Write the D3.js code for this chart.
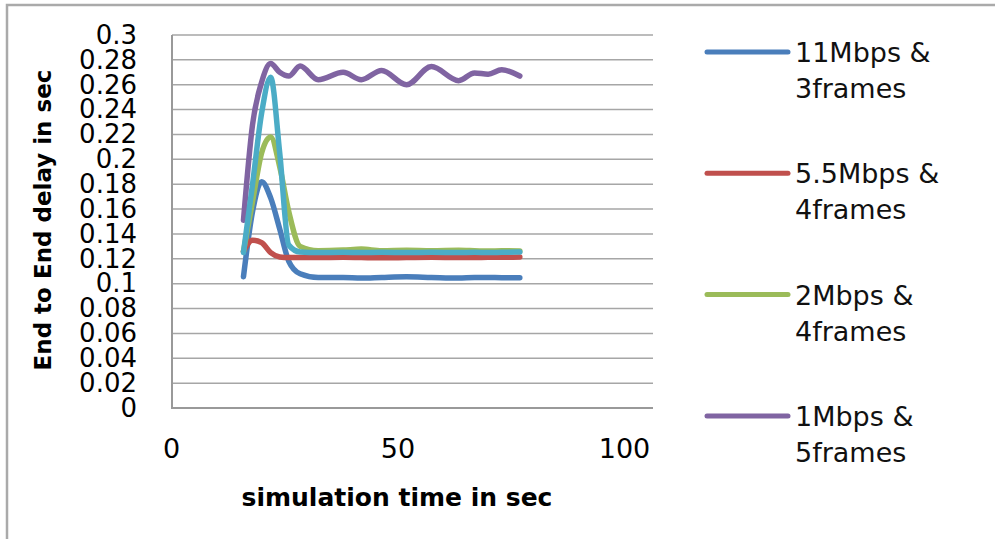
<!DOCTYPE html>
<html>
<head>
<meta charset="utf-8">
<script src="https://cdn.jsdelivr.net/npm/d3@7"></script>
<style>
  body { margin: 0; background: #fff; }
  svg { display: block; }
</style>
</head>
<body>
<script>
// sample times (sec)
const times = [16, 18, 20, 22, 24, 26, 28.5, 32.5, 38, 42, 46.5, 52, 57.5, 63.5, 67, 70, 73, 77]

// end to end delay (sec) per configuration
const delay11 = [0.1056, 0.158, 0.182, 0.169, 0.144, 0.118, 0.108, 0.105, 0.105, 0.1045, 0.105, 0.1055, 0.105, 0.1045, 0.105, 0.105, 0.1048, 0.1048]
const delay55 = [0.126, 0.135, 0.133, 0.125, 0.1215, 0.121, 0.121, 0.121, 0.1212, 0.121, 0.1208, 0.121, 0.1212, 0.121, 0.121, 0.1212, 0.1212, 0.1215]
const delay2 = [0.126, 0.166, 0.205, 0.218, 0.194, 0.158, 0.13, 0.1265, 0.127, 0.1278, 0.1265, 0.1268, 0.1265, 0.1268, 0.1265, 0.1262, 0.1265, 0.1262]
const delay1 = [0.151, 0.228, 0.262, 0.277, 0.27, 0.267, 0.275, 0.264, 0.27, 0.264, 0.2715, 0.26, 0.2746, 0.2633, 0.2695, 0.2685, 0.272, 0.267]
const delay5th = [0.125, 0.18, 0.237, 0.266, 0.205, 0.131, 0.1255, 0.125, 0.1252, 0.125, 0.1252, 0.125, 0.1252, 0.125, 0.1252, 0.125, 0.1252, 0.1255]

const legendNames = [["11Mbps &", "3frames"], ["5.5Mbps &", "4frames"], ["2Mbps &", "4frames"], ["1Mbps &", "5frames"]]
const colors = ["#4a7ebb", "#c0504d", "#9bbb59", "#8064a2", "#4bacc6"]

const yTicks = [0, 0.02, 0.04, 0.06, 0.08, 0.1, 0.12, 0.14, 0.16, 0.18, 0.2, 0.22, 0.24, 0.26, 0.28, 0.3]
const xTicks = [0, 50, 100]

const width = 995
const height = 539

const series = [delay11, delay55, delay2, delay1, delay5th]

const svg = d3.select("body").append("svg")
    .attr("width", width)
    .attr("height", height)
    .style("font-family", "DejaVu Sans, sans-serif")

// outer frame (only top and left edges visible)
svg.append("path")
    .attr("d", `M7,${height} V5 H${width}`)
    .attr("fill", "none")
    .attr("stroke", "#aaa")
    .attr("stroke-width", 2.5)

const x = d3.scaleLinear().domain([0, 100]).range([171, 624])
const y = d3.scaleLinear().domain([0, 0.3]).range([408, 35])
const plotLeft = 172
const plotRight = 653

// gridlines
svg.append("g")
    .selectAll("line")
    .data(yTicks)
    .enter()
    .append("line")
    .attr("x1", plotLeft)
    .attr("x2", plotRight)
    .attr("y1", d => y(d))
    .attr("y2", d => y(d))
    .attr("stroke", "#a6a6a6")
    .attr("stroke-width", 1.5)

// left + bottom axis lines
svg.append("path")
    .attr("d", `M${plotLeft},${y(0.3)} V${y(0)} H${plotRight}`)
    .attr("fill", "none")
    .attr("stroke", "#999")
    .attr("stroke-width", 2)

// y tick labels
const yAxis = svg.append("g")
    .attr("transform", `translate(${plotLeft},0)`)
    .call(d3.axisLeft(y).tickValues(yTicks).tickSize(0).tickPadding(35).tickFormat(d => String(+d.toFixed(2))))
yAxis.select(".domain").remove()
yAxis.selectAll("text")
    .style("font-size", "26px")
    .style("font-family", "DejaVu Sans, sans-serif")
    .attr("fill", "#000")

// x tick labels
const xAxis = svg.append("g")
    .attr("transform", `translate(0,${y(0)})`)
    .call(d3.axisBottom(x).tickValues(xTicks).tickSize(0).tickFormat(d3.format("d")))
xAxis.select(".domain").remove()
xAxis.selectAll("text")
    .attr("y", 50)
    .attr("dy", null)
    .style("font-size", "27px")
    .style("font-family", "DejaVu Sans, sans-serif")
    .attr("fill", "#000")

// lines
const line = d3.line()
    .x((d, i) => x(times[i]))
    .y(d => y(d))
    .curve(d3.curveMonotoneX)

svg.append("g")
    .attr("fill", "none")
    .attr("stroke-width", 5.5)
    .attr("stroke-linejoin", "round")
    .attr("stroke-linecap", "round")
    .selectAll("path")
    .data(series)
    .enter()
    .append("path")
    .attr("d", line)
    .attr("stroke", (d, i) => colors[i])

// axis titles
svg.append("text")
    .attr("transform", "translate(43,220) rotate(-90)")
    .attr("text-anchor", "middle")
    .attr("dy", "0.35em")
    .style("font-size", "23px")
    .style("font-weight", "bold")
    .attr("fill", "#000")
    .text("End to End delay in sec")

svg.append("text")
    .attr("x", 397)
    .attr("y", 506)
    .attr("text-anchor", "middle")
    .style("font-size", "25px")
    .style("font-weight", "bold")
    .attr("fill", "#000")
    .text("simulation time in sec")

// legend
const legend = svg.append("g")
    .selectAll("g")
    .data(legendNames)
    .enter()
    .append("g")
    .attr("transform", (d, i) => `translate(0,${52 + i * 121.3})`)

legend.append("line")
    .attr("x1", 707)
    .attr("x2", 788)
    .attr("stroke", (d, i) => colors[i])
    .attr("stroke-width", 5)
    .attr("stroke-linecap", "round")

legend.append("text")
    .attr("x", 795)
    .attr("y", 10)
    .style("font-size", "27px")
    .attr("fill", "#111")
    .each(function(d) {
        const t = d3.select(this)
        d.forEach((s, k) => {
            t.append("tspan").attr("x", 795).attr("dy", k === 0 ? 0 : 36).text(s)
        })
    })
</script>
</body>
</html>
